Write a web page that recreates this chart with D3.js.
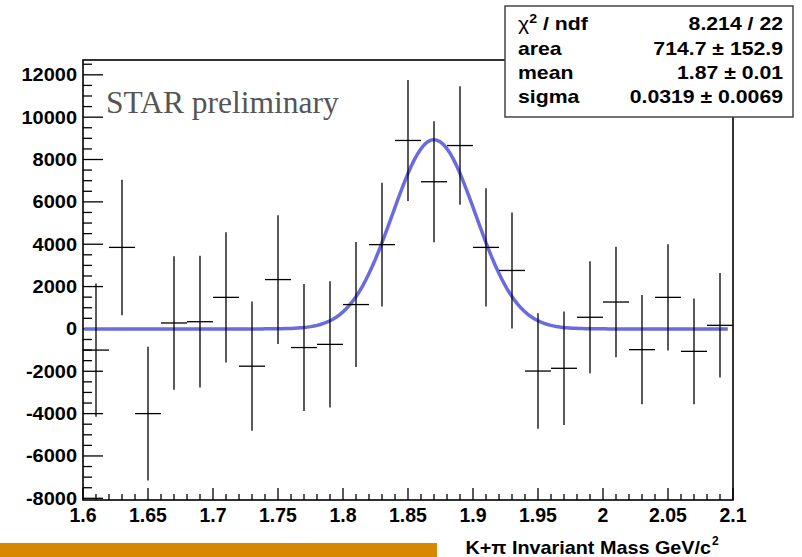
<html>
<head>
<meta charset="utf-8">
<script src="https://d3js.org/d3.v7.min.js"></script>
<style>
  body { margin: 0; background: #fff; }
  svg text { font-family: "Liberation Sans", Arial, sans-serif; }
</style>
</head>
<body>
<div id="chart"></div>
<script>
// bin centres (0.02 GeV bins) and fitted yield per bin, with errors
var binCenters = [1.61, 1.63, 1.65, 1.67, 1.69, 1.71, 1.73, 1.75, 1.77, 1.79, 1.81, 1.83, 1.85,
                  1.87, 1.89, 1.91, 1.93, 1.95, 1.97, 1.99, 2.01, 2.03, 2.05, 2.07, 2.09];
var counts = [-1000, 3850, -4000, 280, 340, 1490, -1760, 2330, -880, -730, 1150, 3980, 8900,
              6950, 8660, 3850, 2760, -1990, -1860, 550, 1270, -980, 1490, -1060, 170];
var errors = [3150, 3200, 3160, 3150, 3110, 3080, 3050, 3040, 3000, 2980, 2950, 2920, 2860,
              2860, 2800, 2790, 2740, 2730, 2680, 2640, 2610, 2580, 2510, 2500, 2470];
var binWidth = 0.02;

// gaussian fit result shown in the stat box
var fitArea = 714.7, fitMean = 1.87, fitSigma = 0.0319;
var statLabels = ["area", "mean", "sigma"];
var statValues = ["8.214 / 22", "714.7 \u00b1 152.9", "1.87 \u00b1 0.01", "0.0319 \u00b1 0.0069"];

var xTicks = [1.6, 1.65, 1.7, 1.75, 1.8, 1.85, 1.9, 1.95, 2, 2.05, 2.1];
var yTicks = [-8000, -6000, -4000, -2000, 0, 2000, 4000, 6000, 8000, 10000, 12000];

var W = 802, H = 557;
var fLeft = 83, fRight = 733, fTop = 60, fBottom = 500;

var svg = d3.select("#chart").append("svg")
    .attr("width", W).attr("height", H);

var x = d3.scaleLinear().domain([1.6, 2.1]).range([fLeft, fRight]);
var y = d3.scaleLinear().domain([-8080, 12700]).range([fBottom, fTop]);

// orange strip at the bottom
svg.append("rect")
    .attr("x", 0).attr("y", 543).attr("width", 437).attr("height", H - 543)
    .attr("fill", "#d68800");

// frame
svg.append("rect")
    .attr("x", fLeft).attr("y", fTop).attr("width", fRight - fLeft).attr("height", fBottom - fTop)
    .attr("fill", "none").attr("stroke", "#000").attr("stroke-width", 1.6);

// y ticks, drawn inside the frame like ROOT does
var yMinor = d3.range(-8000, 12501, 500);
svg.append("g").selectAll("line").data(yMinor).enter().append("line")
    .attr("x1", fLeft)
    .attr("x2", function(d) { return fLeft + (d % 2000 == 0 ? 20 : 9); })
    .attr("y1", function(d) { return y(d); })
    .attr("y2", function(d) { return y(d); })
    .attr("stroke", "#000").attr("stroke-width", 1.3);

svg.append("g").selectAll("text").data(yTicks).enter().append("text")
    .attr("transform", function(d) { return "translate(77," + (y(d) + 6.5) + ") scale(1.08,1)"; })
    .attr("text-anchor", "end")
    .attr("font-weight", "bold")
    .style("font-size", "18.5px")
    .text(function(d) { return d; });

// x ticks
var xMinor = d3.range(0, 51).map(function(i) { return 1.6 + i * 0.01; });
svg.append("g").selectAll("line").data(xMinor).enter().append("line")
    .attr("x1", function(d) { return x(d); })
    .attr("x2", function(d) { return x(d); })
    .attr("y1", fBottom)
    .attr("y2", function(d, i) { return fBottom - (i % 5 == 0 ? 12 : 6); })
    .attr("stroke", "#000").attr("stroke-width", 1.3);

svg.append("g").selectAll("text").data(xTicks).enter().append("text")
    .attr("x", function(d) { return x(d); })
    .attr("y", 521.5)
    .attr("text-anchor", "middle")
    .attr("font-weight", "bold")
    .style("font-size", "19.5px")
    .text(function(d) { return d; });

// axis title
svg.append("text")
    .attr("transform", "translate(711,554) scale(1.1,1)")
    .attr("text-anchor", "end")
    .attr("font-weight", "bold")
    .style("font-size", "18px")
    .text("K+\u03c0 Invariant Mass GeV/c");
svg.append("text")
    .attr("x", 712).attr("y", 545)
    .attr("font-weight", "bold")
    .style("font-size", "12px")
    .text("2");

// fit curve
var curvePts = d3.range(0, 200).map(function(i) { return 1.601 + i * (2.096 - 1.601) / 199; });
var gauss = function(m) {
    return fitArea / (Math.sqrt(2 * Math.PI) * fitSigma) * Math.exp(-0.5 * Math.pow((m - fitMean) / fitSigma, 2));
};
svg.append("path")
    .datum(curvePts)
    .attr("fill", "none")
    .attr("stroke", "#6b6bdf")
    .attr("stroke-width", 3.5)
    .attr("d", d3.line().x(function(d) { return x(d); }).y(function(d) { return y(gauss(d)); }));

// data points with error bars
var pts = svg.append("g").selectAll("g").data(binCenters).enter().append("g");
pts.append("line")
    .attr("x1", function(d) { return x(d); })
    .attr("x2", function(d) { return x(d); })
    .attr("y1", function(d, i) { return y(counts[i] - errors[i]); })
    .attr("y2", function(d, i) { return y(counts[i] + errors[i]); })
    .attr("stroke", "#000").attr("stroke-width", 1.3);
pts.append("line")
    .attr("x1", function(d) { return x(d - binWidth / 2); })
    .attr("x2", function(d) { return x(d + binWidth / 2); })
    .attr("y1", function(d, i) { return y(counts[i]); })
    .attr("y2", function(d, i) { return y(counts[i]); })
    .attr("stroke", "#000").attr("stroke-width", 1.3);

// label
svg.append("text")
    .attr("x", 106).attr("y", 113)
    .style("font-family", "'Liberation Serif', 'DejaVu Serif', serif")
    .style("font-size", "31.5px")
    .attr("fill", "#555")
    .text("STAR preliminary");

// stat box
svg.append("rect")
    .attr("x", 505).attr("y", 6).attr("width", 288).attr("height", 111)
    .attr("fill", "#fff").attr("stroke", "#444").attr("stroke-width", 1.5);

var rowY = [30, 55, 79, 103];
var chi = svg.append("text")
    .attr("transform", "translate(518," + rowY[0] + ") scale(1.18,1)")
    .attr("font-weight", "bold")
    .style("font-size", "18px");
chi.append("tspan").attr("font-weight", "normal").text("\u03c7");
chi.append("tspan").attr("dy", -7).style("font-size", "12px").text("2");
chi.append("tspan").attr("dy", 7).text(" / ndf");

svg.append("g").selectAll("text").data(statLabels).enter().append("text")
    .attr("transform", function(d, i) { return "translate(518," + rowY[i + 1] + ") scale(1.18,1)"; })
    .attr("font-weight", "bold")
    .style("font-size", "18px")
    .text(function(d) { return d; });
svg.append("g").selectAll("text").data(statValues).enter().append("text")
    .attr("transform", function(d, i) { return "translate(783," + rowY[i] + ") scale(1.18,1)"; })
    .attr("text-anchor", "end")
    .attr("font-weight", "bold")
    .style("font-size", "18px")
    .text(function(d) { return d; });
</script>
</body>
</html>
